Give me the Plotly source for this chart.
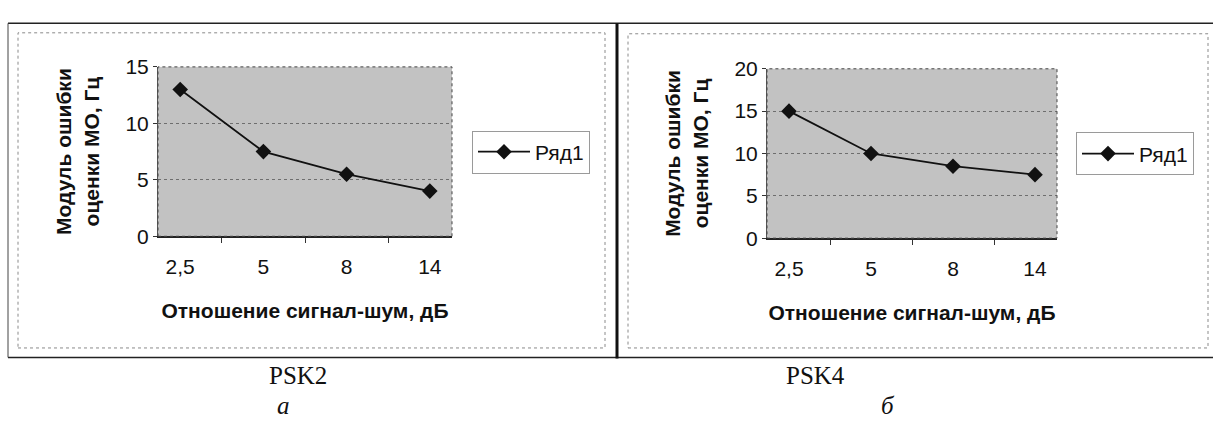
import plotly.graph_objects as go

W, H = 1213, 429

categories = ["2,5", "5", "8", "14"]
psk2_values = [13, 7.5, 5.5, 4]
psk4_values = [15, 10, 8.5, 7.5]
series_name = "Ряд1"
y_title = "Модуль ошибки<br>оценки МО, Гц"
x_title = "Отношение сигнал-шум, дБ"
captions = ["PSK2", "PSK4"]
letters = ["а", "б"]

def px(x):
    return x / W

def py(y):
    return 1 - y / H

fig = go.Figure()

for vals, xa, ya, lg in [(psk2_values, "x", "y", "legend"), (psk4_values, "x2", "y2", "legend2")]:
    fig.add_trace(go.Scatter(
        x=categories, y=vals, name=series_name, mode="lines+markers",
        line=dict(color="#111", width=1.8),
        marker=dict(symbol="diamond", size=12, color="#111"),
        xaxis=xa, yaxis=ya, legend=lg))

sans = "Liberation Sans, Arial, sans-serif"
serif = "Liberation Serif, Times New Roman, serif"

tickfont = dict(family=sans, size=21, color="#111")
titlefont = dict(family=sans, size=21, color="#111")

def xaxis(domain, anchor):
    return dict(domain=domain, anchor=anchor, type="category",
                tickson="boundaries", ticks="outside", ticklen=5,
                tickcolor="#333", showline=True, linecolor="#222",
                linewidth=1.5, showgrid=False, tickfont=tickfont,
                ticklabelstandoff=11,
                title=dict(text="<b>" + x_title + "</b>", font=titlefont, standoff=26),
                fixedrange=True)

def yaxis(domain, anchor, rng, dtick):
    return dict(domain=domain, anchor=anchor, range=rng, dtick=dtick,
                ticks="outside", ticklen=4, tickcolor="#333",
                showline=True, linecolor="#555", linewidth=1,
                showgrid=True, gridcolor="#6e6e6e", griddash="dot", gridwidth=1,
                zeroline=False, tickfont=tickfont,
                title=dict(text="<b>" + y_title + "</b>", font=titlefont, standoff=20),
                fixedrange=True)

legend_style = dict(xanchor="left", yanchor="middle",
                    bordercolor="#9a9a9a", borderwidth=1, bgcolor="white",
                    font=dict(family=sans, size=21, color="#111"),
                    itemwidth=52, tracegroupgap=0)

fig.update_layout(
    width=W, height=H,
    margin=dict(l=0, r=0, t=0, b=0),
    paper_bgcolor="white",
    plot_bgcolor="#c2c2c2",
    showlegend=True,
    xaxis=xaxis([px(158), px(452)], "y"),
    yaxis=yaxis([py(237), py(58)], "x", [0, 15], 5),
    xaxis2=xaxis([px(767), px(1057)], "y2"),
    yaxis2=yaxis([py(239), py(60)], "x2", [0, 20], 5),
    legend=dict(x=px(472), y=py(148), **legend_style),
    legend2=dict(x=px(1076), y=py(150), **legend_style),
)

shapes = []
# plot frames (dotted top/right)
for x0, x1, y0, y1 in [(158, 452, 58, 237), (767, 1057, 60, 239)]:
    shapes.append(dict(type="rect", xref="paper", yref="paper",
                       x0=px(x0), x1=px(x1), y0=py(y1), y1=py(y0),
                       line=dict(color="#444", width=1, dash="dot")))
# inner dotted panel borders
shapes.append(dict(type="rect", xref="paper", yref="paper",
                   x0=px(18), x1=px(605), y0=py(355), y1=py(22),
                   line=dict(color="#8a8a8a", width=1, dash="dot")))
shapes.append(dict(type="rect", xref="paper", yref="paper",
                   x0=px(628), x1=px(1208), y0=py(355), y1=py(23),
                   line=dict(color="#8a8a8a", width=1, dash="dot")))
# outer solid frame lines
shapes.append(dict(type="line", xref="paper", yref="paper",
                   x0=px(8), x1=px(1213), y0=py(12), y1=py(12),
                   line=dict(color="#222", width=1.5)))
shapes.append(dict(type="line", xref="paper", yref="paper",
                   x0=px(8), x1=px(1213), y0=py(365), y1=py(365),
                   line=dict(color="#222", width=1.5)))
shapes.append(dict(type="line", xref="paper", yref="paper",
                   x0=px(8), x1=px(8), y0=py(365), y1=py(12),
                   line=dict(color="#444", width=1)))
shapes.append(dict(type="line", xref="paper", yref="paper",
                   x0=px(617), x1=px(617), y0=py(366), y1=py(12),
                   line=dict(color="#111", width=3)))
fig.update_layout(shapes=shapes)

annotations = []
for cx, cap in [(298, captions[0]), (815, captions[1])]:
    annotations.append(dict(text=cap, x=px(cx), y=py(384), xref="paper", yref="paper",
                            showarrow=False, xanchor="center", yanchor="middle",
                            font=dict(family=serif, size=25, color="#111")))
for cx, let in [(283, letters[0]), (888, letters[1])]:
    annotations.append(dict(text="<i>" + let + "</i>", x=px(cx), y=py(416), xref="paper", yref="paper",
                            showarrow=False, xanchor="center", yanchor="middle",
                            font=dict(family=serif, size=25, color="#111")))
fig.update_layout(annotations=annotations)

fig.write_html("out.html", config={"displayModeBar": False},
               post_script="document.body.style.margin='0px';")
